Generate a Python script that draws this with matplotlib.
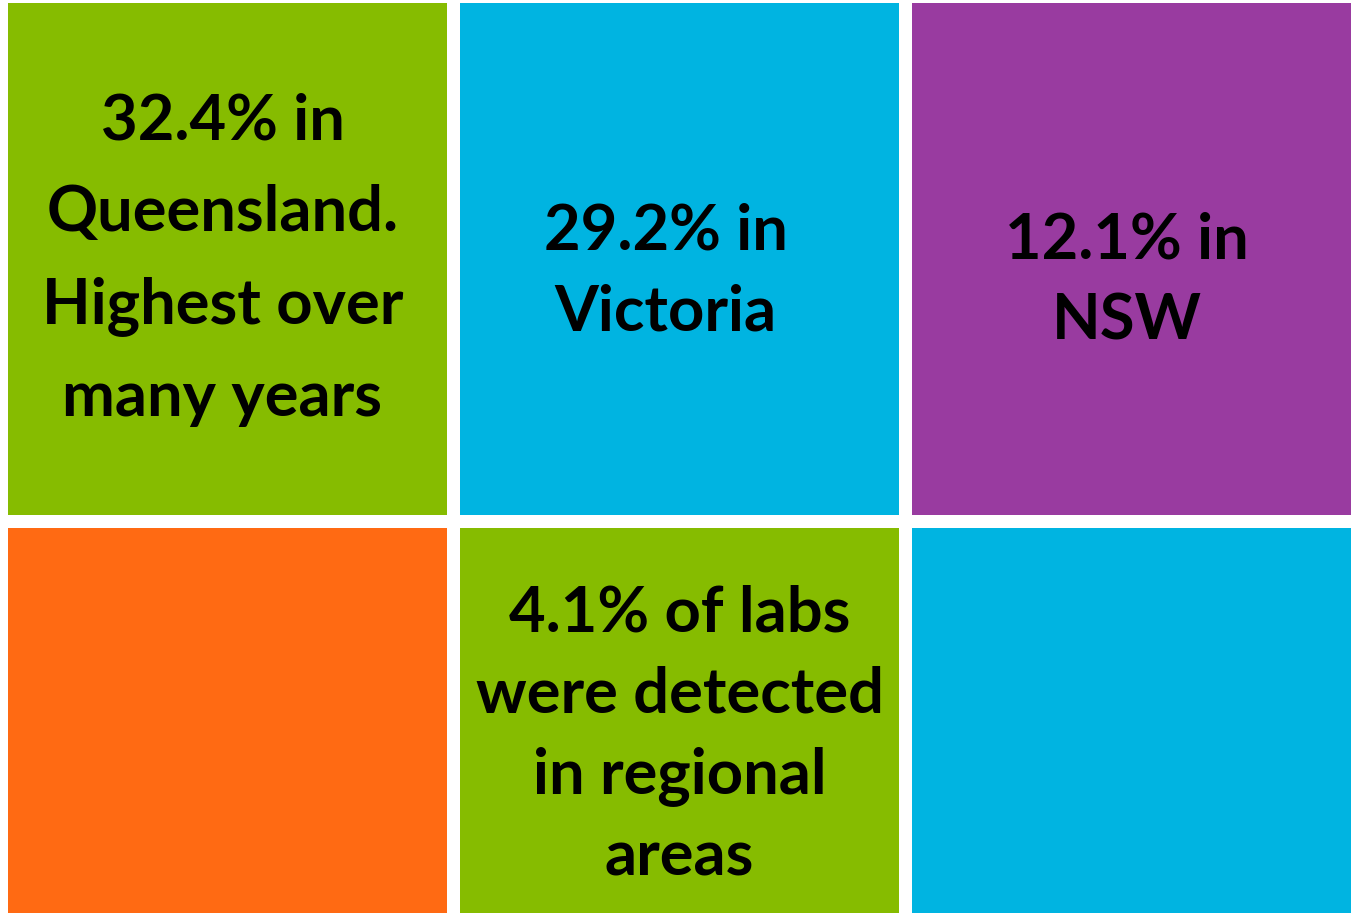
import matplotlib
matplotlib.use("Agg")
import matplotlib.pyplot as plt
from matplotlib.patches import Rectangle

# Data
labels = [
    "32.4% in\nQueensland.\nHighest over\nmany years",
    "29.2% in\nVictoria",
    "12.1% in\nNSW",
    "",
    "4.1% of labs\nwere detected\nin regional\nareas",
    "",
]
rows = [0, 0, 0, 1, 1, 1]
cols = [0, 1, 2, 0, 1, 2]
colors = ["#86BC00", "#00B4E1", "#993BA0", "#FF6A13", "#86BC00", "#00B4E1"]

# Layout (pixels)
W, H = 1357, 916
left, top = 8, 3
col_w, gap = 439, 13
row_h = [512, 385]
text_dx = [-5, -14, -5, 0, 0, 0]
text_dy = [1, 13, 22, 0, 15, 0]
line_sp = [1.71, 1.48, 1.48, 1.0, 1.48, 1.0]

fig = plt.figure(figsize=(W / 100, H / 100), dpi=100)
ax = fig.add_axes([0, 0, 1, 1])
ax.set_xlim(0, W)
ax.set_ylim(H, 0)
ax.axis("off")

for lab, r, c, col, dx, dy, ls in zip(labels, rows, cols, colors, text_dx, text_dy, line_sp):
    x0 = left + c * (col_w + gap)
    y0 = top + sum(row_h[:r]) + r * gap
    h = row_h[r]
    ax.add_patch(Rectangle((x0, y0), col_w, h, facecolor=col, edgecolor="none"))
    if lab:
        ax.text(x0 + col_w / 2 + dx, y0 + h / 2 + dy, lab, ha="center", va="center",
                multialignment="center", fontsize=45.5, fontweight="bold",
                family="Lato", color="black", linespacing=ls)

fig.savefig("out.png", dpi=100)
